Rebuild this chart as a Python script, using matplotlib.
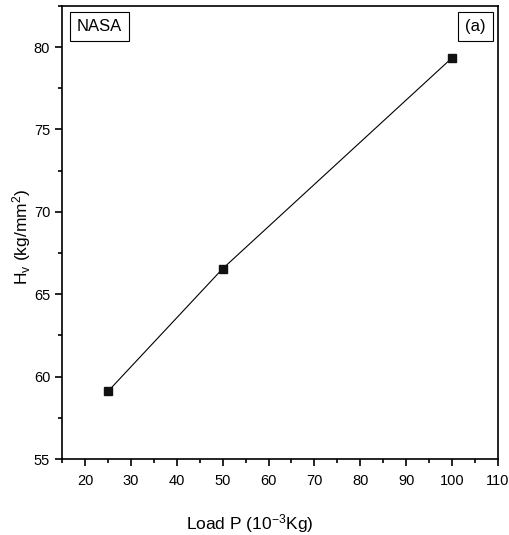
import matplotlib
matplotlib.use('Agg')
import matplotlib.pyplot as plt
from matplotlib.ticker import MultipleLocator

plt.rcParams['font.family'] = ['Liberation Sans', 'DejaVu Sans']
plt.rcParams['mathtext.fontset'] = 'custom'
plt.rcParams['mathtext.rm'] = 'Liberation Sans'
plt.rcParams['mathtext.it'] = 'Liberation Sans'

# data
load = [25, 50, 100]
hv = [59.1, 66.55, 79.35]

fig = plt.figure(figsize=(5.09, 5.35), dpi=100)
ax = fig.add_axes([0.1218, 0.142, 0.8566, 0.847])

ax.plot(load, hv, color='black', lw=0.8, marker='s', ms=6, mfc='#111111', mec='#111111')

ax.set_xlim(15, 110)
ax.set_ylim(55, 82.5)
ax.xaxis.set_major_locator(MultipleLocator(10))
ax.xaxis.set_minor_locator(MultipleLocator(5))
ax.yaxis.set_major_locator(MultipleLocator(5))
ax.yaxis.set_minor_locator(MultipleLocator(2.5))
ax.tick_params(which='major', direction='out', length=5, width=1.2, labelsize=10.5)
ax.tick_params(which='minor', direction='out', length=3, width=1.2)
ax.tick_params(axis='x', pad=6)
for s in ax.spines.values():
    s.set_linewidth(1.2)

ax.set_xlabel('Load P (10$^{-3}$Kg)', fontsize=12.5)
ax.xaxis.set_label_coords(0.43, -0.117)
ax.set_ylabel('H$_v$ (kg/mm$^2$)', fontsize=12.5)
ax.yaxis.set_label_coords(-0.066, 0.49)

ax.text(0.034, 0.971, 'NASA', transform=ax.transAxes, fontsize=12, va='top', ha='left',
        bbox=dict(boxstyle='square,pad=0.42', fc='white', ec='black', lw=0.8))
ax.text(0.972, 0.971, '(a)', transform=ax.transAxes, fontsize=12, va='top', ha='right',
        bbox=dict(boxstyle='square,pad=0.42', fc='white', ec='black', lw=0.8))

plt.savefig('out.png', dpi=100)
